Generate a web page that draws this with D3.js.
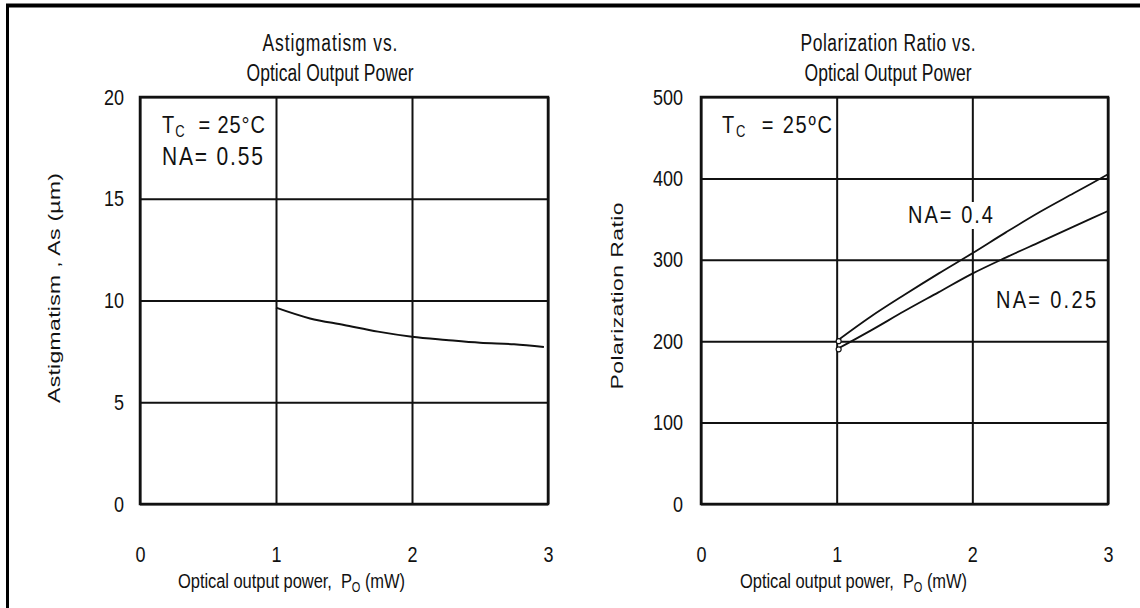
<!DOCTYPE html>
<html>
<head>
<meta charset="utf-8">
<script src="https://cdn.jsdelivr.net/npm/d3@7"></script>
<style>
    body { margin: 0; background: #fff; }
    svg text { font-family: "Liberation Sans", Arial, sans-serif; fill: #111; white-space: pre; }
</style>
</head>
<body>
<svg id="chart"></svg>
<script>
/**
 * Call our functions on window load event
 */
window.onload = function(){
    setupFrame();
    setupVis1();
    setupVis2();
};

// tick labels
const POWER_TICKS = [0, 1, 2, 3];
const ASTIG_TICKS = [0, 5, 10, 15, 20];
const RATIO_TICKS = [0, 100, 200, 300, 400, 500];

// astigmatism curve, NA = 0.55
const ASTIG_POWER = [1, 1.25, 1.5, 1.75, 2, 2.25, 2.5, 2.75, 2.97];
const ASTIG_VALUES = [9.65, 9.12, 8.8, 8.47, 8.22, 8.06, 7.92, 7.85, 7.72];

// polarization ratio curves
const RATIO_POWER = [1, 1.25, 1.5, 1.75, 2, 2.25, 2.5, 2.75, 3];
const RATIO_NA04 = [200, 230, 257, 283, 308, 334, 359, 382, 405];
const RATIO_NA025 = [190, 213, 237, 260, 283, 303, 322, 341, 360];

const WIDTH = 1140;
const HEIGHT = 608;
const PLOT_TOP = 97;
const PLOT_BOTTOM = 504;
const STRETCH = 1.35; // the scanned lettering is taller than it is wide
const TICK_STRETCH = 1.22;

let svg = d3.select("#chart")
    .attr("width", WIDTH)
    .attr("height", HEIGHT);

function setupFrame(){
    // thick border along the top and left edge only
    svg.append("line")
        .attr("x1", 6).attr("x2", WIDTH)
        .attr("y1", 5.5).attr("y2", 5.5)
        .style("stroke", "#000").style("stroke-width", 4);
    svg.append("line")
        .attr("x1", 7.5).attr("x2", 7.5)
        .attr("y1", 4).attr("y2", HEIGHT)
        .style("stroke", "#000").style("stroke-width", 3);
}

// horizontal text, baseline at (x, y), stretched upward
function addText(g, x, y, size, width, anchor, k){
    let t = g.append("text")
        .attr("transform", "translate(" + x + "," + y + ") scale(1," + (k || STRETCH) + ")")
        .style("font-size", size + "px")
        .style("text-anchor", anchor || "start");
    if (width) t.attr("textLength", width);
    return t;
}

// draws grid, frame and tick labels of one panel, returns the scales
function drawPanel(g, left, right, yTicks, yPad){
    let xScale = d3.scaleLinear()
        .domain([0, d3.max(POWER_TICKS)])
        .range([left, right]);

    let yScale = d3.scaleLinear()
        .domain([0, d3.max(yTicks)])
        .range([PLOT_BOTTOM, PLOT_TOP]);

    let xAxis = d3.axisBottom(xScale)
        .tickValues(POWER_TICKS)
        .tickFormat(d3.format("d"))
        .tickSize(-(PLOT_BOTTOM - PLOT_TOP))
        .tickPadding(42);

    let yAxis = d3.axisLeft(yScale)
        .tickValues(yTicks)
        .tickFormat(d3.format("d"))
        .tickSize(-(right - left))
        .tickPadding(yPad);

    let gx = g.append("g")
        .attr("transform", "translate(0," + PLOT_BOTTOM + ")")
        .call(xAxis);

    let gy = g.append("g")
        .attr("transform", "translate(" + left + ",0)")
        .call(yAxis);

    g.selectAll(".domain").remove();
    g.selectAll(".tick line")
        .style("stroke", "#111")
        .style("stroke-width", 2);
    g.selectAll(".tick text")
        .style("font-size", "18px")
        .style("font-family", "'Liberation Sans', Arial, sans-serif")
        .style("fill", "#111");

    // keep the top of the x labels in place, y labels around their tick
    gx.selectAll(".tick text")
        .attr("dy", "0.72em")
        .attr("transform", "translate(0,42) scale(1," + TICK_STRETCH + ") translate(0,-42)");
    gy.selectAll(".tick text")
        .attr("transform", "scale(1," + TICK_STRETCH + ")");

    g.append("rect")
        .attr("x", left).attr("y", PLOT_TOP)
        .attr("width", right - left).attr("height", PLOT_BOTTOM - PLOT_TOP)
        .style("fill", "none")
        .style("stroke", "#111")
        .style("stroke-width", 2.5);

    return { x: xScale, y: yScale };
}

function addTitle(g, cx, lines, widths){
    lines.forEach(function(d, i){
        addText(g, cx, 51 + i * 30, 17.5, widths[i], "middle").text(d);
    });
}

function addXLabel(g, x){
    let t = addText(g, x, 588, 16.5, 227, "start", 1.25);
    t.append("tspan").text("Optical output power,  P");
    t.append("tspan").text("O").style("font-size", "11px").attr("dy", 3);
    t.append("tspan").text(" (mW)").attr("dy", -3);
}

function addYLabel(g, cx, cy, label, length){
    g.append("text")
        .text(label)
        .attr("transform", "translate(" + cx + "," + cy + ") rotate(-90) scale(" + STRETCH + ",1)")
        .attr("textLength", length / STRETCH)
        .style("font-size", "17px")
        .style("text-anchor", "middle");
}

// "T_C = 25°C" label
function addTemp(g, x, y, deg, width){
    let t = addText(g, x, y, 20, width, "start", 1.2);
    t.append("tspan").text("T");
    t.append("tspan").text("C").style("font-size", "13px").attr("dy", 3);
    t.append("tspan").text("  = 25" + deg + "C").attr("dy", -3);
}

function setupVis1(){
    let g = svg.append("g");
    let s = drawPanel(g, 140, 548, ASTIG_TICKS, 16);

    addTitle(g, 330, ["Astigmatism vs.", "Optical Output Power"], [135, 167]);
    addXLabel(g, 178);
    addYLabel(g, 60, 288, "Astigmatism , As (\u00b5m)", 230);

    addTemp(g, 162, 133, "\u00b0", 103);
    addText(g, 162, 165, 21, 101, "start", 1.2).text("NA= 0.55");

    let line = d3.line()
        .x(function(d, i) { return s.x(ASTIG_POWER[i]); })
        .y(function(d) { return s.y(d); })
        .curve(d3.curveMonotoneX);

    g.append("path")
        .datum(ASTIG_VALUES)
        .attr("d", line)
        .style("fill", "none")
        .style("stroke", "#111")
        .style("stroke-width", 2);
}

function setupVis2(){
    let g = svg.append("g");
    let s = drawPanel(g, 701, 1108, RATIO_TICKS, 18);

    addTitle(g, 888, ["Polarization Ratio vs.", "Optical Output Power"], [175, 167]);
    addXLabel(g, 740);
    addYLabel(g, 623, 296, "Polarization Ratio", 187);

    addTemp(g, 722, 133, "\u00ba", 110);

    let line = d3.line()
        .x(function(d, i) { return s.x(RATIO_POWER[i]); })
        .y(function(d) { return s.y(d); })
        .curve(d3.curveMonotoneX);

    [RATIO_NA04, RATIO_NA025].forEach(function(series){
        g.append("path")
            .datum(series)
            .attr("d", line)
            .style("fill", "none")
            .style("stroke", "#111")
            .style("stroke-width", 1.8);
        g.append("circle")
            .attr("cx", s.x(RATIO_POWER[0]) + 2)
            .attr("cy", s.y(series[0]))
            .attr("r", 2.5)
            .style("fill", "#fff")
            .style("stroke", "#111")
            .style("stroke-width", 1.2);
    });

    // curve labels, the upper one hides the grid line behind it
    let labels = [
        { text: "NA= 0.4", x: 908, y: 223, w: 85 },
        { text: "NA= 0.25", x: 996, y: 308, w: 100 }
    ];
    labels.forEach(function(d){
        g.append("rect")
            .attr("x", d.x - 3).attr("y", d.y - 21)
            .attr("width", d.w + 6).attr("height", 27)
            .style("fill", "#fff");
        addText(g, d.x, d.y, 20, d.w, "start", 1.2).text(d.text);
    });
}
</script>
</body>
</html>
